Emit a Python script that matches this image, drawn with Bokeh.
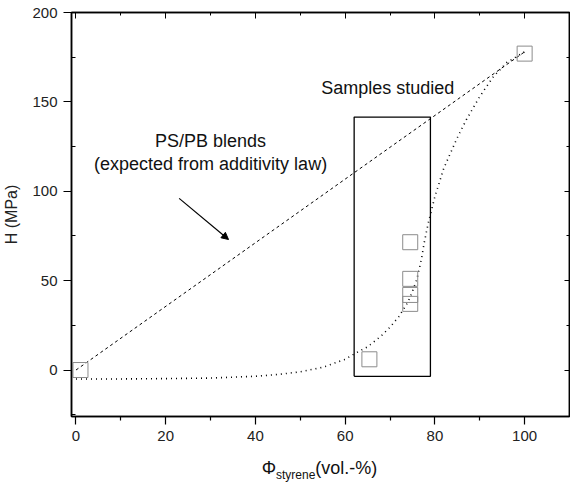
from bokeh.plotting import figure
from bokeh.models import Range1d, LinearAxis, Label, Arrow, NormalHead, FixedTicker, Div
from bokeh.layouts import column
from bokeh.embed import file_html
from bokeh.resources import INLINE

# measured samples
phi_samples = [1, 65.4, 74.5, 74.5, 74.5, 74.5, 100]
h_samples = [0, 6, 71.5, 51, 42, 37, 177]

# additivity-law line (PS/PB blends)
phi_add = [0, 100]
h_add = [0, 178]

# dotted trend through samples
phi_trend = [0, 10, 20, 30, 40, 45, 50, 55, 60, 62, 65, 68, 70, 72, 74, 75, 76, 77, 77.6, 78.5, 80, 82, 85, 87, 90, 93, 96, 100]
h_trend = [-5, -5, -4.8, -4.5, -3.5, -2.5, -1, 1.5, 6, 9, 13, 19, 24, 30, 38, 44, 51, 62, 71, 82, 97, 113, 130, 140, 153, 164, 172, 178]

# box "Samples studied"
box_left, box_right, box_bottom, box_top = 62, 79, -3.5, 141.5

font = "Liberation Sans"

p = figure(width=570, height=453, output_backend="svg", toolbar_location=None,
           x_range=Range1d(-1, 110), y_range=Range1d(-26, 200),
           min_border_left=70, min_border_right=1, min_border_top=12, min_border_bottom=37)
p.grid.visible = False
p.outline_line_color = "black"
p.outline_line_width = 1.5
p.background_fill_color = "white"
p.border_fill_color = "white"

p.xaxis.ticker = FixedTicker(ticks=[0, 20, 40, 60, 80, 100], minor_ticks=[10, 30, 50, 70, 90])
p.yaxis.ticker = FixedTicker(ticks=[0, 50, 100, 150, 200], minor_ticks=[-25, 25, 75, 125, 175])
for ax in (p.xaxis[0], p.yaxis[0]):
    ax.axis_line_width = 1.5
    ax.major_tick_line_width = 1.2
    ax.minor_tick_line_width = 1.2
    ax.major_label_text_font = font
    ax.major_label_text_font_size = "15px"
    ax.major_label_text_color = "#222222"
    ax.major_tick_out = 8
    ax.major_tick_in = 0
    ax.major_label_standoff = 6
p.yaxis.minor_tick_in = 4
p.yaxis.minor_tick_out = 0
p.xaxis.minor_tick_in = 0
p.xaxis.minor_tick_out = 4
p.yaxis.axis_label = "H (MPa)"
p.yaxis.axis_label_text_font = font
p.yaxis.axis_label_text_font_style = "normal"
p.yaxis.axis_label_text_font_size = "16px"
p.yaxis.axis_label_text_color = "#222222"
p.yaxis.axis_label_standoff = 9

# mirrored axes without labels
ra = LinearAxis(ticker=FixedTicker(ticks=[0, 50, 100, 150, 200], minor_ticks=[25, 75, 125, 175]),
                major_label_text_color=None, major_tick_in=5, major_tick_out=0,
                minor_tick_in=3, minor_tick_out=0, axis_line_width=1.5)
ta = LinearAxis(ticker=FixedTicker(ticks=[0, 20, 40, 60, 80, 100], minor_ticks=[10, 30, 50, 70, 90]),
                major_label_text_color=None, major_tick_in=6, major_tick_out=0,
                minor_tick_in=3, minor_tick_out=0, axis_line_width=1.5)
p.add_layout(ra, "right")
p.add_layout(ta, "above")

# lines
p.line(phi_add, h_add, line_color="black", line_width=1, line_dash="3 3")
p.line(phi_trend, h_trend, line_color="black", line_width=1.6, line_dash="1 4")

# box
p.line([box_left, box_right, box_right, box_left, box_left],
       [box_bottom, box_bottom, box_top, box_top, box_bottom], line_color="black", line_width=1.3)

# markers
p.scatter(phi_samples, h_samples, marker="square", size=15, fill_color=None,
          line_color="#8c8c8c", line_width=1)

# annotations
p.add_layout(Label(x=69.5, y=157.5, text="Samples studied", text_font=font, text_font_size="18px",
                   text_align="center", text_baseline="middle", text_color="#111111"))
p.add_layout(Label(x=30, y=128, text="PS/PB blends", text_font=font, text_font_size="18px",
                   text_align="center", text_baseline="middle", text_color="#111111"))
p.add_layout(Label(x=30, y=115, text="(expected from additivity law)", text_font=font, text_font_size="18px",
                   text_align="center", text_baseline="middle", text_color="#111111"))
p.add_layout(Arrow(x_start=23, y_start=96, x_end=34, y_end=73, line_width=1.2,
                   end=NormalHead(size=7, fill_color="black", line_color="black")))

# x-axis label with subscript
xlabel = Div(text=('<div style="font-family:\'Liberation Sans\'; font-size:18px; line-height:18px; '
                   'color:#111111; text-align:center; width:499px; padding-top:6px;">'
                   'Φ<sub style="font-size:12px; line-height:0;">styrene</sub>(vol.-%)</div>'),
             width=499, height=26, margin=(0, 0, 0, 70))

layout = column(p, xlabel, spacing=0)
open("out.html", "w").write(file_html(layout, INLINE))
